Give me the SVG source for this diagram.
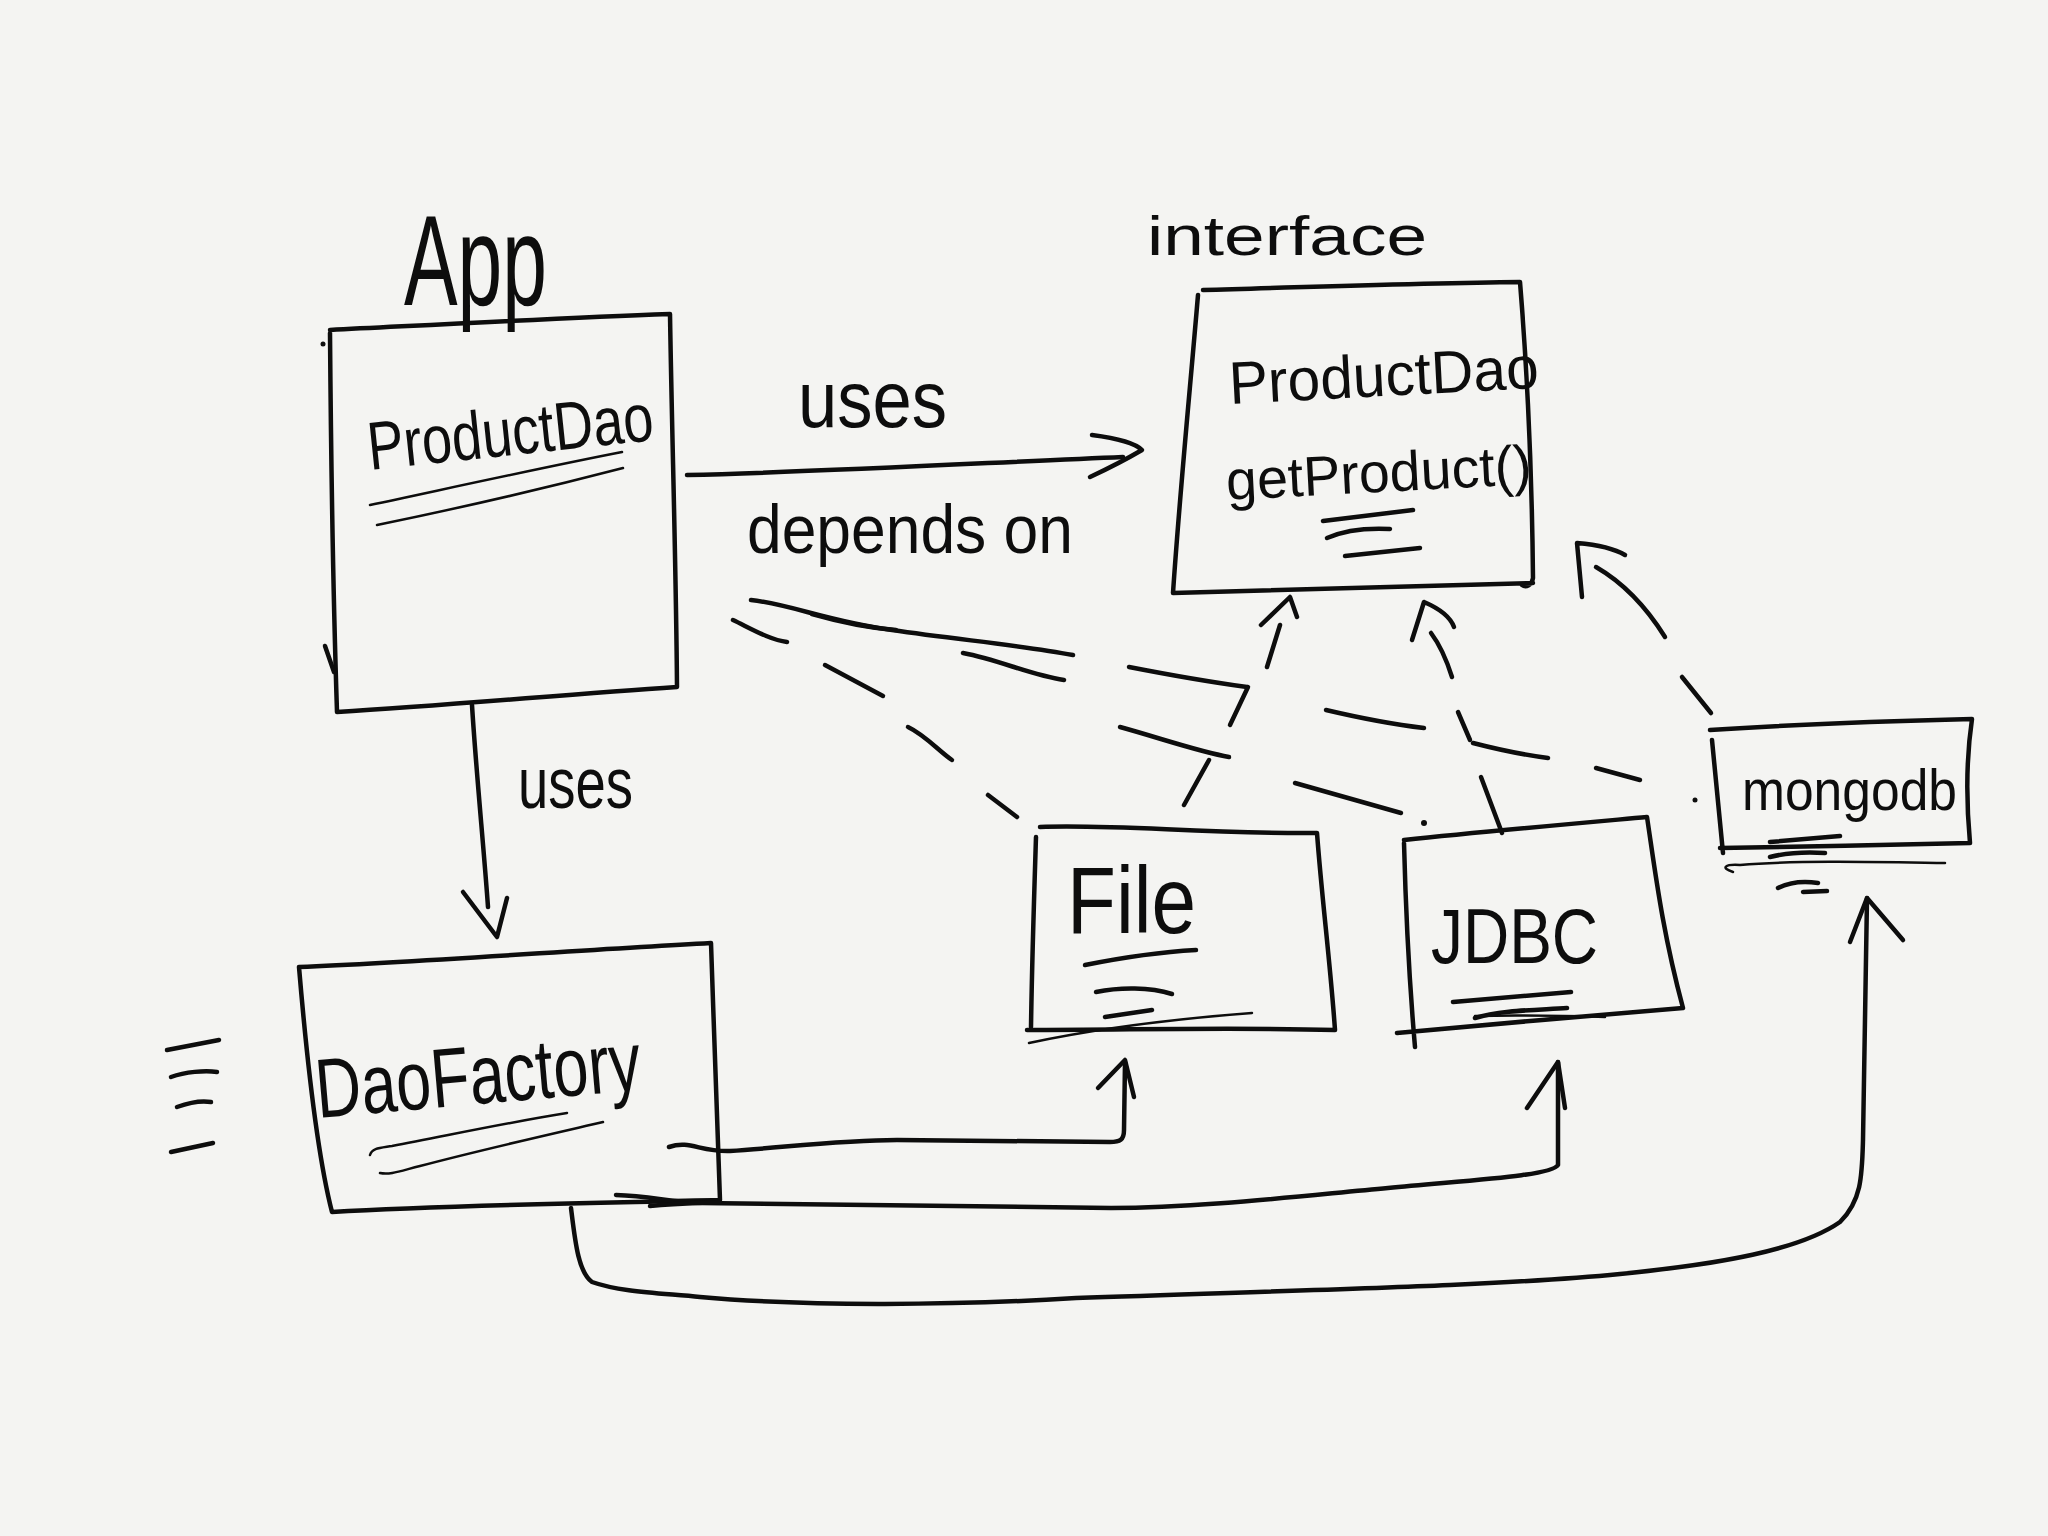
<svg xmlns="http://www.w3.org/2000/svg" width="2048" height="1536" viewBox="0 0 2048 1536">
<style>
.bg{fill:#f4f4f2}
.ln{fill:none;stroke:#0d0d0d;stroke-width:4.5;stroke-linecap:round;stroke-linejoin:round}
.th{fill:none;stroke:#0d0d0d;stroke-width:2.5;stroke-linecap:round;stroke-linejoin:round}
.t{font-family:"Liberation Sans","DejaVu Sans",sans-serif;fill:#0d0d0d}
</style>
<rect class="bg" x="0" y="0" width="2048" height="1536"/>

<g id="app">
  <text class="t" x="404" y="305" font-size="128" textLength="143" lengthAdjust="spacingAndGlyphs">App</text>
  <path class="ln" d="M330,330 C450,324 560,318 670,314 C672,440 676,560 677,687 C560,695 450,705 337,712 C333,590 331,460 330,333"/>
  <path class="ln" d="M325,646 L334,672"/>
  <circle cx="323" cy="344" r="2.5" fill="#0d0d0d"/>
  <text class="t" x="370" y="470" font-size="68" textLength="287" lengthAdjust="spacingAndGlyphs" transform="rotate(-6 370 470)">ProductDao</text>
  <path class="th" d="M370,505 C450,488 540,468 622,452"/>
  <path class="th" d="M377,525 C460,508 550,487 623,468"/>
</g>

<g id="productdao-interface">
  <text class="t" x="1147" y="255" font-size="56" textLength="280" lengthAdjust="spacingAndGlyphs">interface</text>
  <path class="ln" d="M1203,290 C1310,287 1420,283 1520,282 C1528,380 1532,480 1533,578 C1532,585 1526,588 1522,585 M1533,583 C1410,586 1290,590 1173,593 C1180,490 1190,390 1198,295"/>
  <text class="t" x="1230" y="404" font-size="60" textLength="310" lengthAdjust="spacingAndGlyphs" transform="rotate(-3 1230 404)">ProductDao</text>
  <text class="t" x="1227" y="500" font-size="56" textLength="306" lengthAdjust="spacingAndGlyphs" transform="rotate(-3 1227 500)">getProduct()</text>
  <path class="ln" d="M1323,521 L1413,510"/>
  <path class="ln" d="M1327,538 C1345,530 1370,528 1390,529"/>
  <path class="ln" d="M1345,556 L1420,548"/>
</g>

<g id="file">
  <path class="ln" d="M1040,827 C1120,824 1200,834 1317,833 C1322,900 1330,960 1335,1030 C1230,1027 1130,1030 1027,1030 M1036,837 C1034,900 1032,960 1031,1027"/>
  <path class="th" d="M1029,1043 C1090,1030 1160,1020 1252,1013"/>
  <text class="t" x="1067" y="933" font-size="95" textLength="129" lengthAdjust="spacingAndGlyphs">File</text>
  <path class="ln" d="M1085,965 C1120,958 1160,952 1196,950"/>
  <path class="ln" d="M1096,992 C1120,987 1150,987 1172,994"/>
  <path class="ln" d="M1105,1017 L1152,1010"/>
</g>

<g id="jdbc">
  <path class="ln" d="M1404,840 C1480,832 1570,824 1647,817 C1655,870 1662,930 1683,1008 C1590,1016 1490,1024 1397,1033 M1404,843 C1406,920 1410,990 1415,1047"/>
  <text class="t" x="1431" y="963" font-size="78" textLength="167" lengthAdjust="spacingAndGlyphs">JDBC</text>
  <path class="ln" d="M1453,1002 L1571,992"/>
  <path class="ln" d="M1475,1018 C1500,1010 1540,1010 1567,1008"/>
  <path class="th" d="M1475,1016 C1520,1015 1570,1016 1605,1017"/>
</g>

<g id="mongodb">
  <path class="ln" d="M1710,730 C1800,724 1890,721 1972,719 C1966,760 1966,800 1970,843 C1890,845 1800,847 1720,848 M1712,740 C1716,780 1720,820 1723,853"/>
  <circle cx="1695" cy="800" r="2.5" fill="#0d0d0d"/>
  <text class="t" x="1742" y="810" font-size="58" textLength="215" lengthAdjust="spacingAndGlyphs">mongodb</text>
  <path class="ln" d="M1770,842 L1840,836"/>
  <path class="ln" d="M1770,857 C1790,852 1810,852 1825,853"/>
  <path class="th" d="M1733,872 C1720,868 1725,864 1740,865 C1800,860 1880,862 1945,863"/>
  <path class="ln" d="M1778,888 C1790,882 1805,881 1818,883"/>
  <path class="ln" d="M1803,892 L1827,891"/>
</g>

<g id="daofactory">
  <path class="ln" d="M299,967 C420,962 580,950 711,943 C714,1030 717,1120 720,1200 M299,967 C306,1050 316,1150 332,1212 C450,1205 600,1203 720,1200"/>
  <text class="t" x="318" y="1118" font-size="84" textLength="326" lengthAdjust="spacingAndGlyphs" transform="rotate(-5 318 1118)">DaoFactory</text>
  <path class="th" d="M370,1155 C372,1148 380,1148 392,1146 C450,1135 510,1122 567,1113"/>
  <path class="th" d="M380,1173 C390,1175 400,1171 420,1166 C480,1150 560,1132 603,1122"/>
  <path class="ln" d="M167,1050 L219,1040"/>
  <path class="ln" d="M171,1077 C185,1072 205,1070 217,1072"/>
  <path class="ln" d="M177,1107 C188,1103 200,1100 211,1102"/>
  <path class="ln" d="M171,1152 L213,1143"/>
</g>

<g id="connectors">
  <path class="ln" d="M687,475 C820,472 1000,462 1123,457"/>
  <path class="ln" d="M1092,435 C1115,438 1135,443 1142,450 C1125,460 1105,470 1090,477"/>
  <path class="ln" d="M472,705 C476,770 484,850 488,907"/>
  <path class="ln" d="M463,892 L497,937 L507,898"/>
  <path class="ln" d="M669,1147 C690,1140 700,1152 730,1151 C780,1148 840,1140 897,1140 L1110,1142 C1120,1142 1124,1140 1124,1130 L1125,1062"/>
  <path class="ln" d="M1098,1088 L1125,1060 L1134,1097"/>
  <path class="ln" d="M616,1195 C650,1196 670,1202 700,1203 L1111,1208 C1200,1208 1300,1196 1388,1188 C1470,1180 1552,1176 1558,1165 L1558,1062"/>
  <path class="ln" d="M1527,1108 L1558,1062 L1565,1108"/>
  <path class="ln" d="M650,1206 C680,1203 705,1203 720,1202"/>
  <path class="ln" d="M571,1208 C575,1240 578,1272 592,1282 C620,1292 660,1293 700,1297 C800,1306 950,1306 1076,1298 C1300,1290 1500,1286 1620,1274 C1720,1264 1800,1250 1840,1222 C1862,1200 1862,1175 1863,1140 L1867,898"/>
  <path class="ln" d="M1850,942 L1867,898 L1903,940"/>

  <path class="ln" d="M751,600 C790,604 830,622 892,630 C960,640 1020,645 1073,655"/>
  <path class="ln" d="M1129,667 C1170,675 1210,682 1247,687"/>
  <path class="ln" d="M1326,710 C1360,718 1390,724 1424,728"/>
  <path class="ln" d="M1473,743 C1500,750 1525,755 1548,758"/>
  <path class="ln" d="M1596,768 L1640,780"/>
  <path class="ln" d="M812,614 C840,622 870,628 896,630"/>
  <path class="ln" d="M963,653 C1000,660 1030,675 1064,680"/>
  <path class="ln" d="M1120,727 C1160,738 1200,752 1229,757"/>
  <path class="ln" d="M1295,783 L1401,813"/>
  <circle cx="1424" cy="823" r="3" fill="#0d0d0d"/>
  <path class="ln" d="M733,620 C750,628 770,640 787,642"/>
  <path class="ln" d="M825,665 L883,696"/>
  <path class="ln" d="M908,727 C925,735 940,752 952,760"/>
  <path class="ln" d="M988,795 L1017,817"/>

  <path class="ln" d="M1184,805 L1209,760"/>
  <path class="ln" d="M1230,725 L1248,687"/>
  <path class="ln" d="M1267,667 L1280,625"/>
  <path class="ln" d="M1261,625 L1290,597 L1297,617"/>
  <path class="ln" d="M1502,833 L1481,777"/>
  <path class="ln" d="M1470,740 L1458,712"/>
  <path class="ln" d="M1452,677 C1446,658 1440,645 1431,633"/>
  <path class="ln" d="M1412,640 L1424,602 C1438,608 1450,616 1454,627"/>
  <path class="ln" d="M1711,713 L1682,677"/>
  <path class="ln" d="M1665,637 C1645,605 1622,582 1596,567"/>
  <path class="ln" d="M1582,597 L1577,543 C1600,545 1615,549 1625,555"/>
</g>

<g id="labels">
  <text class="t" x="798" y="427" font-size="80" textLength="149" lengthAdjust="spacingAndGlyphs">uses</text>
  <text class="t" x="747" y="553" font-size="68" textLength="326" lengthAdjust="spacingAndGlyphs">depends on</text>
  <text class="t" x="518" y="808" font-size="72" textLength="115" lengthAdjust="spacingAndGlyphs">uses</text>
</g>
</svg>
